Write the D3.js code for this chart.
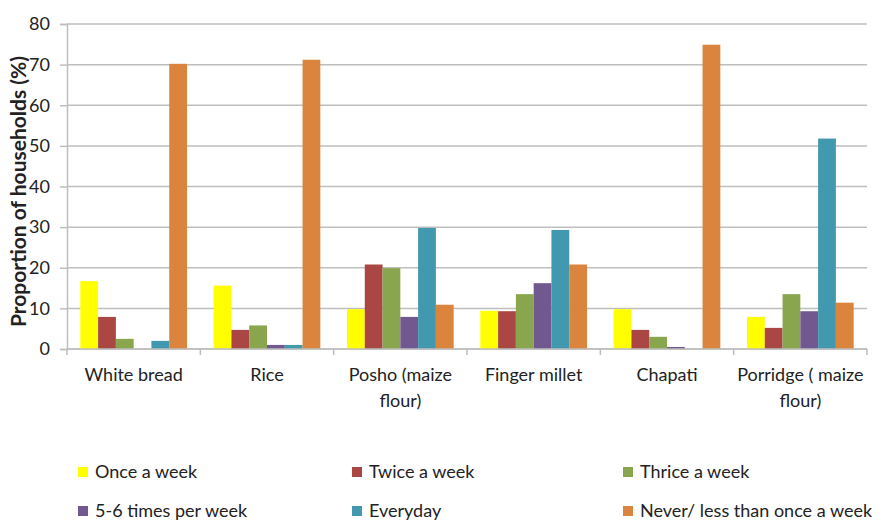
<!DOCTYPE html>
<html>
<head>
<meta charset="utf-8">
<script src="https://cdn.jsdelivr.net/npm/d3@7"></script>
<style>
  body { margin: 0; background: #fff; }
  svg text { font-family: "Lato", "DejaVu Sans Condensed", sans-serif; fill: #222; }
</style>
</head>
<body>
<div id="chart"></div>
<script>
// food items on the x axis
const categories = ["White bread", "Rice", "Posho (maize flour)", "Finger millet", "Chapati", "Porridge ( maize flour)"];

// frequency series, % of households
const seriesNames = ["Once a week", "Twice a week", "Thrice a week", "5-6 times per week", "Everyday", "Never/ less than once a week"];
const seriesColors = ["#FFFF00", "#AA4643", "#89A54E", "#71588F", "#4198AF", "#DB843D"];

const onceAWeek   = [16.7, 15.6,  9.8,  9.4,  9.8,  7.9];
const twiceAWeek  = [ 7.9,  4.7, 20.8,  9.3,  4.7,  5.2];
const thriceAWeek = [ 2.5,  5.8, 19.9, 13.5,  3.0, 13.5];
const fiveSixWeek = [ 0.0,  1.0,  7.9, 16.2,  0.5,  9.3];
const everyday    = [ 2.0,  1.0, 29.8, 29.3,  0.0, 51.8];
const never       = [70.2, 71.2, 10.9, 20.8, 74.9, 11.4];

const yTicks = [0, 10, 20, 30, 40, 50, 60, 70, 80];
const yTitle = "Proportion of households (%)";

const seriesValues = [onceAWeek, twiceAWeek, thriceAWeek, fiveSixWeek, everyday, never];

const width = 880, height = 521;
const margin = {top: 24, right: 13, bottom: 172, left: 67};
const innerW = width - margin.left - margin.right;
const innerH = height - margin.top - margin.bottom;
const gridColor = "#BEBEBE";
const fontSize = "18px";

const svg = d3.select("#chart").append("svg")
  .attr("width", width)
  .attr("height", height);

const g = svg.append("g")
  .attr("transform", "translate(" + margin.left + "," + margin.top + ")");

const x0 = d3.scaleBand()
  .domain(categories)
  .range([0, innerW])
  .paddingInner(0.2)
  .paddingOuter(0.1);

const x1 = d3.scaleBand()
  .domain(d3.range(seriesNames.length))
  .range([0, x0.bandwidth()]);

const y = d3.scaleLinear()
  .domain([0, 80])
  .range([innerH, 0]);

// gridlines
g.append("g")
  .selectAll("line")
  .data(yTicks)
  .enter().append("line")
  .attr("x1", 0)
  .attr("x2", innerW)
  .attr("y1", d => y(d))
  .attr("y2", d => y(d))
  .attr("stroke", gridColor)
  .attr("stroke-width", 1.5);

// y axis
const yAxis = g.append("g")
  .call(d3.axisLeft(y).tickValues(yTicks).tickSize(7).tickPadding(10));
yAxis.select(".domain").attr("stroke", gridColor).attr("stroke-width", 1.5);
yAxis.selectAll(".tick line").attr("stroke", gridColor).attr("stroke-width", 1.5);
yAxis.selectAll(".tick text")
  .style("font-size", fontSize)
  .attr("fill", "#222");

// bars
const step = x0.step();
const groups = g.append("g")
  .selectAll("g")
  .data(categories)
  .enter().append("g")
  .attr("transform", d => "translate(" + x0(d) + ",0)");

groups.selectAll("rect")
  .data((d, ci) => seriesValues.map((vals, si) => ({si: si, v: vals[ci]})))
  .enter().append("rect")
  .attr("x", d => x1(d.si))
  .attr("width", x1.bandwidth())
  .attr("y", d => y(d.v))
  .attr("height", d => innerH - y(d.v))
  .attr("fill", d => seriesColors[d.si]);

// x axis baseline + boundary ticks
const xa = g.append("g").attr("transform", "translate(0," + innerH + ")");
xa.append("line")
  .attr("x1", 0).attr("x2", innerW)
  .attr("stroke", gridColor).attr("stroke-width", 1.5);
xa.selectAll(".bt")
  .data(d3.range(categories.length + 1))
  .enter().append("line")
  .attr("x1", i => i * step).attr("x2", i => i * step)
  .attr("y1", 0).attr("y2", 6)
  .attr("stroke", gridColor).attr("stroke-width", 1.5);

// category labels, wrapped to the band
const catText = xa.selectAll(".cat")
  .data(categories)
  .enter().append("text")
  .attr("x", d => x0(d) + x0.bandwidth() / 2)
  .attr("y", 32)
  .attr("text-anchor", "middle")
  .style("font-size", fontSize)
  .text(d => d);

catText.each(function(d) {
  const t = d3.select(this);
  const words = d.split(" ");
  const cx = t.attr("x");
  t.text(null);
  let line = [];
  let tspan = t.append("tspan").attr("x", cx).attr("dy", 0);
  words.forEach(w => {
    line.push(w);
    tspan.text(line.join(" "));
    if (tspan.node().getComputedTextLength() > step && line.length > 1) {
      line.pop();
      tspan.text(line.join(" "));
      line = [w];
      tspan = t.append("tspan").attr("x", cx).attr("dy", 26).text(w);
    }
  });
});

// y title
svg.append("text")
  .attr("transform", "translate(26," + (margin.top + innerH / 2 + 5) + ") rotate(-90)")
  .attr("text-anchor", "middle")
  .style("font-size", "21px")
  .style("font-weight", "bold")
  .text(yTitle);

// legend
const legendCols = [78, 352, 623];
const legendRows = [472, 511];
const legend = svg.append("g")
  .selectAll("g")
  .data(seriesNames)
  .enter().append("g")
  .attr("transform", (d, i) => "translate(" + legendCols[i % 3] + "," + legendRows[Math.floor(i / 3)] + ")");

legend.append("rect")
  .attr("x", 0).attr("y", -5)
  .attr("width", 10).attr("height", 10)
  .attr("fill", (d, i) => seriesColors[i]);

legend.append("text")
  .attr("x", 17)
  .attr("y", 6)
  .style("font-size", fontSize)
  .text(d => d);
</script>
</body>
</html>
